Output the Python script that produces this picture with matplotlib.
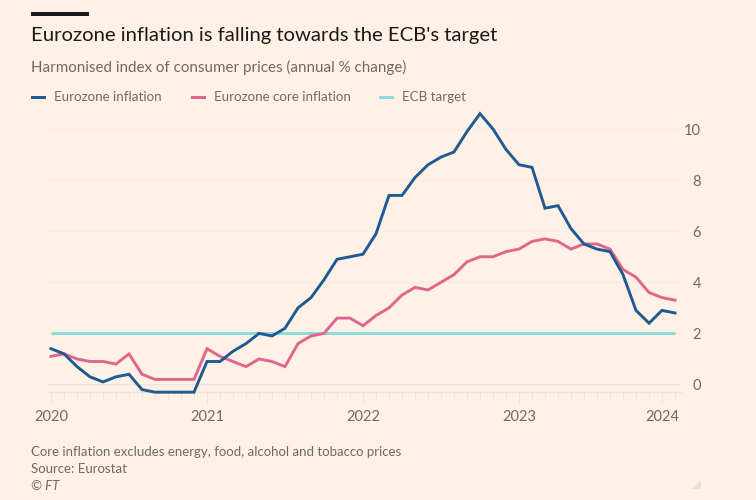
import matplotlib
matplotlib.use('Agg')
import matplotlib.pyplot as plt
from matplotlib.patches import Polygon, Rectangle

# monthly values, Jan 2020 onwards
inflation = [1.4, 1.2, 0.7, 0.3, 0.1, 0.3, 0.4, -0.2, -0.3, -0.3, -0.3, -0.3,
             0.9, 0.9, 1.3, 1.6, 2.0, 1.9, 2.2, 3.0, 3.4, 4.1, 4.9, 5.0,
             5.1, 5.9, 7.4, 7.4, 8.1, 8.6, 8.9, 9.1, 9.9, 10.6, 10.0, 9.2,
             8.6, 8.5, 6.9, 7.0, 6.1, 5.5, 5.3, 5.2, 4.3, 2.9, 2.4, 2.9, 2.8]
core = [1.1, 1.2, 1.0, 0.9, 0.9, 0.8, 1.2, 0.4, 0.2, 0.2, 0.2, 0.2,
        1.4, 1.1, 0.9, 0.7, 1.0, 0.9, 0.7, 1.6, 1.9, 2.0, 2.6, 2.6,
        2.3, 2.7, 3.0, 3.5, 3.8, 3.7, 4.0, 4.3, 4.8, 5.0, 5.0, 5.2,
        5.3, 5.6, 5.7, 5.6, 5.3, 5.5, 5.5, 5.3, 4.5, 4.2, 3.6, 3.4, 3.3]
target = [2.0] * 49
months = list(range(49))

year_ticks = [0, 12, 24, 36, 47]
year_labels = ['2020', '2021', '2022', '2023', '2024']
y_ticks = [0, 2, 4, 6, 8, 10]

W, H = 756, 500
BG = '#fff1e5'
TEXT = '#706a66'
GRID = '#f0e4da'
plt.rcParams['font.family'] = ['Lato', 'DejaVu Sans']

fig = plt.figure(figsize=(W / 100, H / 100), dpi=100, facecolor=BG)

# axes box in pixels: x 47-681, y 110-392
ax = fig.add_axes([47 / W, 1 - 392 / H, 634 / W, 282 / H], facecolor='none')
ax.set_xlim((47 - 51) / 13, (681 - 51) / 13)
ax.set_ylim((384.5 - 392) / 25.55, (384.5 - 110) / 25.55)

for s in ['top', 'left', 'right']:
    ax.spines[s].set_visible(False)
ax.spines['bottom'].set_color(GRID)
ax.spines['bottom'].set_linewidth(1)

ax.yaxis.tick_right()
ax.set_yticks(y_ticks)
ax.tick_params(axis='y', length=0, pad=14.4, labelsize=10.5, labelcolor=TEXT)
for lab in ax.get_yticklabels():
    lab.set_ha('right')
ax.grid(axis='y', color='#f8ede3', linewidth=1)
ax.axhline(0, color='#eee2d8', linewidth=1.2, zorder=1)

ax.set_xticks(months, minor=True)
ax.set_xticks(year_ticks)
ax.set_xticklabels(year_labels)
ax.tick_params(axis='x', which='minor', length=5.5, width=0.8, color=GRID)
ax.tick_params(axis='x', which='major', length=8, width=0.8, color=GRID,
               pad=5, labelsize=10.5, labelcolor=TEXT)

ax.plot(months, target, color='#8fd9dd', linewidth=2.2, solid_capstyle='butt', zorder=2, clip_on=False)
ax.plot(months, core, color='#e0668f', linewidth=2.1, solid_joinstyle='miter', zorder=3, clip_on=False)
ax.plot(months, inflation, color='#1f5a92', linewidth=2.1, solid_joinstyle='miter', zorder=4, clip_on=False)


def px_text(x, y, s, **kw):
    fig.text(x / W, 1 - y / H, s, va='center', **kw)


# black bar above the title
fig.add_artist(Rectangle((31 / W, 1 - 16 / H), 58 / W, 4 / H, transform=fig.transFigure,
                         facecolor='#1a1a1a', edgecolor='none'))
px_text(31, 36, "Eurozone inflation is falling towards the ECB's target", fontsize=14.55, color='#1a1a1a')
px_text(31, 67, 'Harmonised index of consumer prices (annual % change)', fontsize=10.9, color=TEXT)

# legend
legend_items = [(31, 54, 'Eurozone inflation', '#1f5a92'),
                (191, 214, 'Eurozone core inflation', '#e0668f'),
                (379, 402, 'ECB target', '#8fd9dd')]
for x0, x1, label, col in legend_items:
    fig.add_artist(Rectangle((x0 / W, 1 - 98.5 / H), 15 / W, 2.4 / H, transform=fig.transFigure,
                             facecolor=col, edgecolor='none'))
    px_text(x1, 97, label, fontsize=9.6, color=TEXT)

# footer
px_text(31, 452, 'Core inflation excludes energy, food, alcohol and tobacco prices', fontsize=9.58, color=TEXT)
px_text(31, 469, 'Source: Eurostat', fontsize=9.58, color=TEXT)
px_text(31, 486, '© FT', fontsize=9.58, color=TEXT, style='italic')

# resize corner mark
fig.add_artist(Polygon([(692 / W, 1 - 489 / H), (701 / W, 1 - 489 / H), (701 / W, 1 - 480 / H)],
                       transform=fig.transFigure, facecolor='#e8dfd6', edgecolor='none'))

fig.savefig('out.png', dpi=100, facecolor=BG)
